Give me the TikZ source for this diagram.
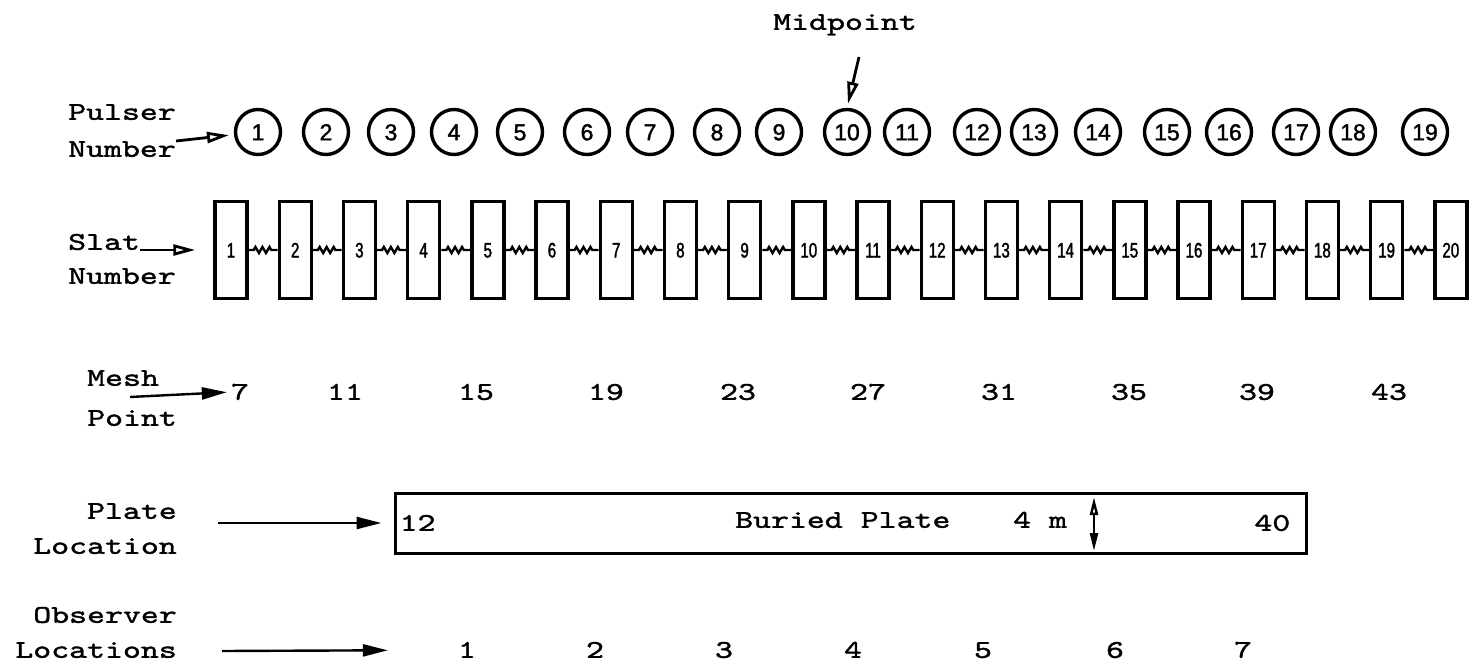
\documentclass[tikz,border=0pt]{standalone}
\usepackage{fontspec}
\newfontfamily\typew{lmmono10-regular.otf}[FakeStretch=1.34, FakeBold=1.5]
\newfontfamily\lettering{Liberation Sans}[FakeBold=1.6]
\newfontfamily\slatlettering{Liberation Sans}[FakeStretch=0.72, FakeBold=1.6]
\usetikzlibrary{positioning,arrows.meta,decorations.pathmorphing}

\tikzset{
 lbl/.style={font=\typew\fontsize{25.5}{30}\selectfont, inner sep=0pt, text height=15.6pt, text depth=0pt},
 pulser/.style={circle, draw, line width=3.4pt, minimum size=45pt, inner sep=0pt,
   font=\lettering\fontsize{23}{25}\selectfont, text height=16.5pt, text depth=0pt},
 slat/.style={rectangle, draw, line width=3.4pt, minimum width=32pt, minimum height=97pt, inner sep=0pt,
   font=\slatlettering\fontsize{21}{23}\selectfont, text height=15pt, text depth=0pt},
 spring/.style={line width=2.4pt, decorate,
   decoration={zigzag, segment length=7pt, amplitude=3pt, pre length=5pt, post length=5pt}},
 openhead/.style={line width=2.8pt, -{Triangle[open, length=22pt, width=11pt, line width=2.8pt]}},
 filledhead/.style={line width=2.4pt, -{Triangle[length=25pt, width=12pt]}},
 dblhead/.style={line width=2.4pt, {Triangle[open, length=18pt, width=8pt, line width=2.4pt]}-{Triangle[length=18pt, width=8pt]}},
}

\begin{document}
\begin{tikzpicture}[x=1pt, y=-1pt]
 \useasboundingbox (0,0) rectangle (1470,666);

 % pulsers
 \node[lbl] (mid) at (845,22) {Midpoint};
 \foreach \x [count=\i] in {258,326,391,454,520,587,650,717,779,847,907,977,1034,1098,1167,1229,1296,1353,1425}
   \node[pulser] (p\i) at (\x,132) {\i};

 % slats and springs
 \foreach \i in {1,...,20}
   \node[slat] (s\i) at ({231+64.2*(\i-1)},250) {\i};
 \foreach \i [count=\j from 2] in {1,...,19}
   \draw[spring] (s\i.east) -- (s\j.west);

 % mesh points
 \foreach \n/\x in {7/240,11/345,15/476,19/606,23/738,27/868,31/999,35/1129,39/1257,43/1389}
   \node[lbl] (m\n) at (\x,392) {\n};

 % plate
 \node[draw, line width=3pt, minimum width=911pt, minimum height=60pt, inner sep=0pt] (plate) at (850.5,523) {};
 \node[lbl, right=6pt of plate.west] (plateL) {12};
 \node[lbl, anchor=west] (buried) at (735,520) {Buried Plate};
 \node[lbl, anchor=west] (fourm) at (1013,520) {4 m};
 \node[lbl, left=17pt of plate.east] (plateR) {40};
 \coordinate (dtop) at (1094,497);
 \coordinate (dbot) at (1094,551);

 % observers
 \foreach \x [count=\i] in {467,595,724,853,983,1115,1243}
   \node[lbl] (o\i) at (\x,650) {\i};

 % row labels
 \node[lbl, anchor=west] (pulserA) at (68,112) {Pulser};
 \node[lbl, anchor=west] (pulserB) at ([yshift=-37pt]pulserA.west) {Number};
 \node[lbl, anchor=west] (slatA) at (68,242) {Slat};
 \node[lbl, anchor=west] (slatB) at ([yshift=-34pt]slatA.west) {Number};
 \node[lbl, anchor=west] (meshA) at (87,378) {Mesh};
 \node[lbl, anchor=west] (meshB) at ([yshift=-40pt]meshA.west) {Point};
 \node[lbl, anchor=east] (plateA) at (177,511) {Plate};
 \node[lbl, anchor=east] (plateB) at ([yshift=-35pt]plateA.east) {Location};
 \node[lbl, anchor=east] (obsA) at (177,615) {Observer};
 \node[lbl, anchor=east] (obsB) at ([yshift=-35pt]obsA.east) {Locations};

 \coordinate (midtail) at (859,57);
 \coordinate (meshtail) at (130,397);
 \coordinate (platetail) at (218,523);
 \coordinate (obstail) at (222,651);

 \draw[openhead, shorten >=4pt] (midtail) -- (p10.north);
 \draw[openhead, shorten >=5pt] (pulserB.north east) -- (p1);
 \draw[openhead, shorten >=18pt] (slatA.south east) -- (s1.west);
 \draw[filledhead, shorten >=4pt] (meshtail) -- (m7.west);
 \draw[filledhead, shorten >=12pt] (platetail) -- (plate.west);
 \draw[filledhead, shorten >=70pt] (obstail) -- (o1.west);
 \draw[dblhead] (dtop) -- (dbot);
\end{tikzpicture}
\end{document}
